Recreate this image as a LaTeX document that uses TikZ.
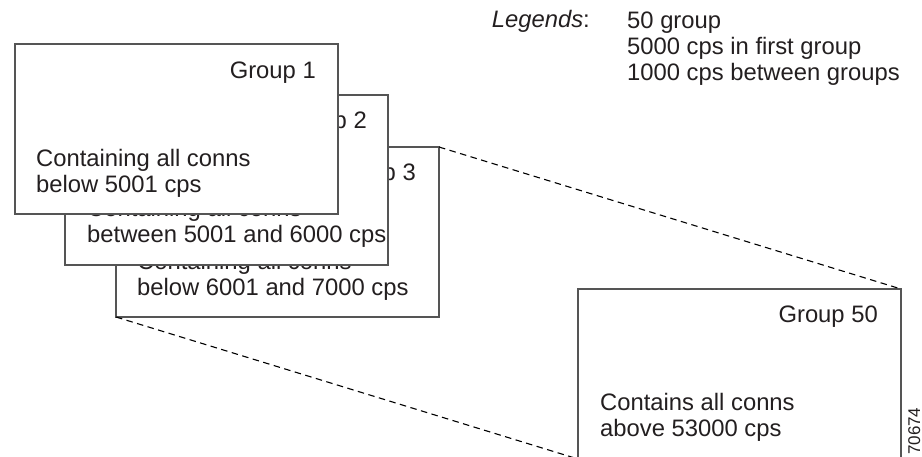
\documentclass[tikz,border=0pt]{standalone}
\usepackage{fontspec}
\setmainfont{Liberation Sans}
\definecolor{txtc}{RGB}{35,31,32}
\definecolor{boxgray}{RGB}{85,85,85}
\begin{document}
\begin{tikzpicture}[x=1pt,y=-1pt]
\tikzset{
  grp/.style={draw=boxgray, line width=1.2pt, fill=white, minimum width=323pt, minimum height=170pt, anchor=north west, inner sep=0pt, outer sep=0pt},
  txt/.style={font=\fontsize{23.8}{26}\selectfont, text=txtc, inner sep=0pt, align=left},
  link/.style={draw=black, dash pattern=on 6.5pt off 4.5pt, line width=1.1pt}
}
\useasboundingbox (0,0) rectangle (922,456);
\clip (0,0) rectangle (922,456);
% group 50
\node[grp] (b50) at (578,289) {};
\node[txt, anchor=base east] (t50a) at ([shift={(-23,33)}]b50.north east) {Group 50};
\node[txt, anchor=base west] (t50b) at ([shift={(22,147)}]b50.north west) {Contains all conns\\above 53000 cps};
% group 3
\node[grp] (b3) at (116,147) {};
\node[txt, anchor=base east] (t3a) at ([shift={(-23,33)}]b3.north east) {Group 3};
\node[txt, anchor=base west] (t3b) at ([shift={(21,148)}]b3.north west) {Containing all conns\\below 6001 and 7000 cps};
% group 2
\node[grp] (b2) at (65,95) {};
\node[txt, anchor=base east] (t2a) at ([shift={(-21,33)}]b2.north east) {Group 2};
\node[txt, anchor=base west] (t2b) at ([shift={(22,147)}]b2.north west) {Containing all conns\\between 5001 and 6000 cps};
% group 1
\node[grp] (b1) at (15,44) {};
\node[txt, anchor=base east] (t1a) at ([shift={(-22,34)}]b1.north east) {Group 1};
\node[txt, anchor=base west] (t1b) at ([shift={(21,148)}]b1.north west) {Containing all conns\\below 5001 cps};
% links
\draw[link] (b3.north east) -- (b50.north east);
\draw[link] (b3.south west) -- (b50.south west);
% legend
\node[txt, anchor=base east] (leg) at (590,27) {\textit{Legends}:};
\node[txt, anchor=base west] (legv) at (627,80) {50 group\\5000 cps in first group\\1000 cps between groups};
% figure number
\node[font=\fontsize{17}{17}\selectfont, text=txtc, inner sep=0pt, rotate=90, anchor=base west] (fig) at (920,455) {70674};
\end{tikzpicture}
\end{document}
